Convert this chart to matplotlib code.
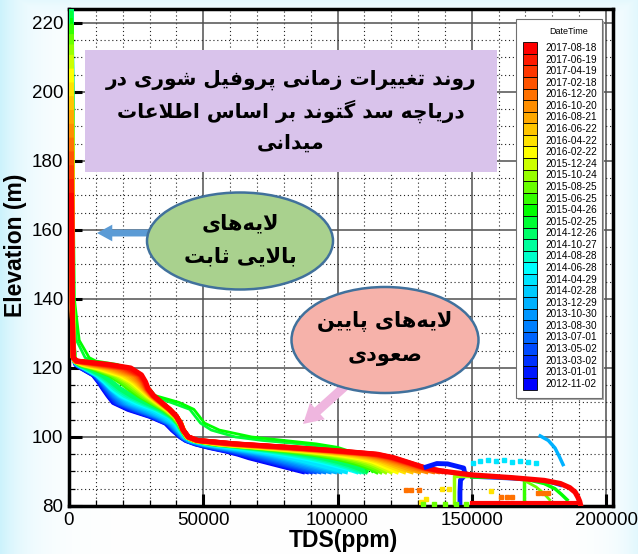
import numpy as np
import matplotlib
matplotlib.use("Agg")
import matplotlib.pyplot as plt
from matplotlib.colors import LinearSegmentedColormap
from matplotlib.patches import Ellipse, Rectangle, FancyArrowPatch
from matplotlib.ticker import MultipleLocator

# ---------------- data ----------------
dates = ["2012-11-02", "2013-01-01", "2013-03-02", "2013-05-02", "2013-07-01",
         "2013-08-30", "2013-10-30", "2013-12-29", "2014-02-28", "2014-04-29",
         "2014-06-28", "2014-08-28", "2014-10-27", "2014-12-26", "2015-02-25",
         "2015-04-26", "2015-06-25", "2015-08-25", "2015-10-24", "2015-12-24",
         "2016-02-22", "2016-04-22", "2016-06-22", "2016-08-21", "2016-10-20",
         "2016-12-20", "2017-02-18", "2017-04-19", "2017-06-19", "2017-08-18"]

# water surface elevation of each profile (m)
surface_elev = [205, 207, 210, 212, 214, 216, 218, 219, 220, 221,
                222, 223, 224, 224, 223, 221, 219, 216, 213, 210,
                206, 202, 198, 194, 190, 186, 182, 178, 174, 170]

# elevations below the surface where TDS was read (m)
elev_levels = [140, 128, 123, 122, 121, 120, 118, 116, 114, 112, 110, 108, 106,
               104, 102, 100, 99, 98, 97, 96, 95, 94, 93, 92, 91, 90]

# TDS (ppm): first value at the surface, then at elev_levels
tds_2012 = [
    [900, 1200, 1500, 1800, 2100, 2600, 4500, 9000, 11000, 12700, 14500, 16500, 22000, 30000, 36000, 38500, 41500, 43500, 47000, 52000, 58000, 63000, 67000, 72000, 77000, 82000, 87000],
]
tds_2013 = [
    [900, 1200, 1500, 1800, 2100, 2600, 4700, 9200, 11300, 13000, 14900, 17000, 22800, 30500, 36300, 38800, 41700, 43700, 47400, 52600, 58800, 64000, 68500, 73500, 78500, 83500, 88500],
    [900, 1200, 1500, 1800, 2100, 2700, 4900, 9400, 11600, 13400, 15300, 17600, 23600, 31000, 36600, 39100, 41900, 43900, 47800, 53300, 59700, 65200, 70000, 75000, 80000, 85000, 90000],
    [900, 1200, 1500, 1800, 2100, 2800, 5100, 9600, 11900, 13800, 15800, 18300, 24400, 31500, 36900, 39400, 42100, 44100, 48200, 54000, 60700, 66500, 71500, 76500, 81500, 86500, 91500],
    [900, 1200, 1500, 1800, 2100, 2900, 5300, 9800, 12200, 14200, 16300, 19000, 25200, 32000, 37200, 39700, 42300, 44300, 48600, 54800, 61800, 68000, 73200, 78200, 83200, 88200, 93200],
    [900, 1200, 1500, 1800, 2100, 3000, 5500, 10000, 12500, 14600, 16800, 19800, 26000, 32600, 37500, 40000, 42500, 44500, 49000, 55700, 63000, 69600, 75000, 80000, 85000, 90000, 95000],
    [900, 1200, 1500, 1800, 2100, 3100, 5700, 10200, 12800, 15000, 17400, 20600, 27000, 33200, 37900, 40300, 42700, 44800, 49500, 56600, 64300, 71300, 76800, 82000, 87000, 92000, 97000],
    [900, 1200, 1500, 1800, 2100, 3200, 5800, 10300, 13000, 15400, 18000, 21500, 28000, 33800, 38300, 40600, 42900, 45100, 50000, 57600, 65700, 73000, 78700, 84000, 89000, 94000, 99000],
]
tds_2014 = [
    [900, 1200, 1500, 1800, 2100, 3300, 5900, 10400, 13200, 15700, 18600, 22500, 29200, 34600, 38800, 40900, 43100, 45400, 50600, 58700, 67200, 74800, 80600, 86000, 91000, 96000, 101000],
    [900, 1200, 1500, 1800, 2100, 3400, 6000, 10500, 13400, 15900, 19100, 23700, 30500, 35600, 39400, 41200, 43300, 45700, 51200, 60000, 68800, 76700, 82600, 88000, 93000, 98000, 103000],
    [900, 1200, 1500, 1800, 2100, 3500, 6000, 10500, 13500, 16000, 19500, 25000, 32000, 37000, 40000, 41500, 43500, 46000, 52000, 62000, 72000, 80000, 87000, 93000, 98000, 103000, 107000],
    [900, 1200, 1500, 1800, 2100, 3600, 6300, 11000, 14200, 17000, 20800, 26300, 32800, 37400, 40200, 41700, 43600, 46200, 52600, 63500, 74000, 82500, 89500, 95300, 100200, 104600, 108200],
    [900, 1200, 1500, 1800, 2100, 3700, 6600, 11600, 15000, 18000, 22000, 27500, 33500, 37800, 40400, 41900, 43700, 46400, 53200, 65000, 76000, 85000, 92000, 97500, 102300, 106200, 109400],
    [900, 1200, 1500, 1800, 2200, 3800, 7000, 12300, 15800, 19000, 23200, 28600, 34200, 38200, 40600, 42100, 43800, 46600, 53800, 66500, 78000, 87400, 94300, 99600, 104200, 107700, 110500],
]
tds_2015 = [
    [900, 1700, 2800, 6000, 8500, 14000, 19000, 23000, 26000, 28500, 30500, 38000, 45000, 47000, 49000, 53000, 62000, 72000, 86000, 97000, 102000, 105000, 107000, 108500, 109500, 110500, 111000],
    [900, 2000, 3800, 7500, 10000, 18000, 21000, 24500, 27500, 30000, 32000, 41000, 46500, 48500, 50500, 56000, 68000, 80000, 92000, 100000, 104000, 107000, 109000, 110000, 111000, 112000, 113000],
    [900, 1300, 1600, 1800, 2300, 4300, 8500, 15000, 19000, 22300, 26000, 30500, 35200, 38600, 40800, 42200, 43800, 46600, 54500, 68500, 81000, 91000, 98500, 104000, 108500, 112000, 114500],
    [900, 1300, 1600, 1800, 2300, 4600, 9200, 16000, 20200, 23500, 27000, 31200, 35600, 38900, 41000, 42300, 43900, 46700, 55000, 69500, 83000, 93500, 101000, 106500, 110500, 113800, 116000],
    [900, 1300, 1600, 1800, 2300, 4900, 9900, 17000, 21400, 24600, 28000, 31900, 36000, 39200, 41200, 42400, 44000, 46800, 55500, 70500, 85000, 96000, 103500, 108800, 112600, 115600, 117800],
    [900, 1300, 1600, 1800, 2300, 5200, 10500, 18000, 22500, 25600, 28800, 32500, 36300, 39500, 41400, 42500, 44000, 46900, 55800, 71300, 86500, 98000, 105800, 111000, 114400, 117300, 119800],
]
tds_2016 = [
    [900, 1200, 1400, 1600, 2200, 5500, 11000, 19000, 23500, 26500, 29500, 33000, 36600, 39700, 41500, 42600, 44100, 47000, 56000, 72000, 88000, 100000, 108000, 113000, 116000, 119000, 122000],
    [900, 1200, 1400, 1600, 2200, 6200, 12300, 20200, 24300, 27100, 29900, 33300, 36800, 39800, 41600, 42600, 44100, 47100, 56700, 73500, 90000, 102500, 110000, 114800, 118000, 121300, 124700],
    [900, 1200, 1400, 1600, 2300, 7000, 13600, 21300, 25000, 27600, 30200, 33600, 37000, 39900, 41600, 42600, 44200, 47200, 57400, 75000, 92000, 104800, 112000, 116500, 120000, 123500, 127500],
    [900, 1200, 1400, 1600, 2300, 7800, 15000, 22400, 25700, 28000, 30500, 33800, 37100, 39900, 41600, 42600, 44200, 47300, 58100, 76300, 93600, 106900, 113800, 118200, 122000, 125800, 130300],
    [900, 1200, 1400, 1600, 2400, 8800, 16400, 23500, 26300, 28300, 30700, 34000, 37200, 39900, 41500, 42500, 44300, 47400, 58900, 77600, 95000, 108800, 115500, 119800, 124000, 128000, 133000],
    [900, 1200, 1400, 1600, 2500, 9900, 17800, 24500, 26900, 28600, 30900, 34100, 37300, 39900, 41500, 42500, 44300, 47500, 59700, 78700, 96300, 110500, 117000, 121400, 125800, 130000, 135500],
]
tds_2017 = [
    [900, 1200, 1400, 1600, 2600, 11000, 19200, 25300, 27400, 28900, 31100, 34200, 37400, 39900, 41500, 42500, 44400, 47600, 60500, 79800, 97500, 112000, 118500, 122800, 127200, 131300, 137300],
    [900, 1200, 1400, 1600, 2700, 12200, 20500, 26000, 27800, 29100, 31200, 34300, 37400, 39900, 41400, 42500, 44400, 47700, 61000, 80700, 98500, 113300, 119600, 123800, 128100, 132200, 138600],
    [900, 1200, 1400, 1600, 2800, 13500, 21700, 26500, 28200, 29300, 31400, 34400, 37500, 40000, 41400, 42500, 44500, 47800, 61500, 81400, 99300, 114200, 120400, 124500, 128600, 132700, 139400],
    [900, 1200, 1400, 1600, 3000, 15000, 23000, 27000, 28500, 29500, 31500, 34500, 37500, 40000, 41500, 42500, 44500, 48000, 62000, 82000, 100000, 115000, 121000, 125000, 129000, 133000, 140000],
]

# deep layer (below 90 m) readings
red_deep_tds = [140000, 150000, 165000, 177000, 183000, 186500, 188500, 189500, 190200, 190500]
red_deep_elev = [90, 89, 88.2, 87.4, 86.5, 85.3, 84.0, 82.6, 81.3, 80.3]
red_floor_tds = [150000, 170000, 190000]
red_floor_elev = [80.8, 80.8, 80.8]
blue_deep_tds = [133000, 137000, 141000, 147000, 147500, 145800, 145600, 145600]
blue_deep_elev = [91.3, 92.3, 92.2, 91.0, 89.0, 87.5, 84.0, 81.0]
blue_mid_tds = [150000, 165000, 178000, 183000]
blue_mid_elev = [88.4, 87.9, 87.2, 86.0]
sky_curve_tds = [175500, 178500, 181000, 182500, 184000]
sky_curve_elev = [100.3, 99.0, 96.8, 94.5, 92.0]
sky_dots_tds = [150500, 153000, 156000, 159000, 162000, 165000, 168000, 171000, 174000]
sky_dots_elev = [92.6, 93.0, 93.2, 93.0, 93.3, 92.8, 93.1, 92.7, 92.5]
yg_vert_tds = [149000, 143500, 143500]
yg_vert_elev = [88.8, 88.8, 81.0]
green_vert_tds = [169500, 169500]
green_vert_elev = [88.2, 81.5]
green_arc_tds = [150000, 160000, 170000, 177000, 181000, 183500, 185500]
green_arc_elev = [88.4, 88.3, 87.8, 86.5, 85.0, 83.3, 81.8]
green_arc2_tds = [170000, 174000, 177000, 179000]
green_arc2_elev = [87.2, 85.5, 83.5, 81.8]
orange_pts_tds = [125500, 127500, 130500, 161000, 163000, 165000, 174500, 176500, 178500]
orange_pts_elev = [84.6, 84.6, 84.6, 82.6, 82.7, 82.6, 83.8, 83.8, 83.7]
yellow_pts_tds = [139000, 141500, 157000, 131000, 133000]
yellow_pts_elev = [84.8, 85.0, 84.4, 81.2, 82.0]
floor_pts_tds = [132000, 136000, 140000, 144000, 148000]
floor_pts_elev = [80.5, 80.6, 80.5, 80.6, 80.5]

# annotation texts
title_lines = ["روند تغییرات زمانی پروفیل شوری در",
               "دریاچه سد گتوند بر اساس اطلاعات",
               "میدانی"]
upper_lines = ["لایه‌های", "بالایی ثابت"]
lower_lines = ["لایه‌های پایین", "صعودی"]

# ---------------- Persian shaping (matplotlib has no bidi) ----------------
FORMS = {
    'ا': ('\uFE8D', '\uFE8E'), 'د': ('\uFEA9', '\uFEAA'), 'ر': ('\uFEAD', '\uFEAE'),
    'ز': ('\uFEAF', '\uFEB0'), 'و': ('\uFEED', '\uFEEE'),
    'ب': ('\uFE8F', '\uFE90', '\uFE91', '\uFE92'), 'پ': ('\uFB56', '\uFB57', '\uFB58', '\uFB59'),
    'ت': ('\uFE95', '\uFE96', '\uFE97', '\uFE98'), 'ث': ('\uFE99', '\uFE9A', '\uFE9B', '\uFE9C'),
    'چ': ('\uFB7A', '\uFB7B', '\uFB7C', '\uFB7D'), 'س': ('\uFEB1', '\uFEB2', '\uFEB3', '\uFEB4'),
    'ش': ('\uFEB5', '\uFEB6', '\uFEB7', '\uFEB8'), 'ص': ('\uFEB9', '\uFEBA', '\uFEBB', '\uFEBC'),
    'ط': ('\uFEC1', '\uFEC2', '\uFEC3', '\uFEC4'), 'ع': ('\uFEC9', '\uFECA', '\uFECB', '\uFECC'),
    'غ': ('\uFECD', '\uFECE', '\uFECF', '\uFED0'), 'ف': ('\uFED1', '\uFED2', '\uFED3', '\uFED4'),
    'گ': ('\uFB92', '\uFB93', '\uFB94', '\uFB95'), 'ل': ('\uFEDD', '\uFEDE', '\uFEDF', '\uFEE0'),
    'م': ('\uFEE1', '\uFEE2', '\uFEE3', '\uFEE4'), 'ن': ('\uFEE5', '\uFEE6', '\uFEE7', '\uFEE8'),
    'ه': ('\uFEE9', '\uFEEA', '\uFEEB', '\uFEEC'), 'ی': ('\uFBFC', '\uFBFD', '\uFBFE', '\uFBFF'),
}


def dual(c):
    return c in FORMS and len(FORMS[c]) == 4


def farsi(text):
    out = []
    i = 0
    n = len(text)
    while i < n:
        c = text[i]
        prev = text[i - 1] if i > 0 else ''
        cp = dual(prev) and c in FORMS
        if c == 'ل' and i + 1 < n and text[i + 1] == 'ا':
            out.append('\uFEFC' if cp else '\uFEFB')
            i += 2
            continue
        if c not in FORMS:
            if c != '\u200c':
                out.append(c)
            i += 1
            continue
        nxt = text[i + 1] if i + 1 < n else ''
        cn = dual(c) and nxt in FORMS
        f = FORMS[c]
        if cp and cn:
            out.append(f[3])
        elif cp:
            out.append(f[1])
        elif cn:
            out.append(f[2])
        else:
            out.append(f[0])
        i += 1
    return ''.join(reversed(out))


# ---------------- figure ----------------
W, H = 638, 554
fig = plt.figure(figsize=(W / 100, H / 100), dpi=100, facecolor='white')

# light cyan border shading of the slide
bg = fig.add_axes([0, 0, 1, 1], zorder=-10)
bg.axis('off')
xx, yy = np.meshgrid(np.arange(W), np.arange(H))
f = np.maximum.reduce([np.exp(-xx / 28.0), 0.6 * np.exp(-(W - xx) / 22.0),
                       0.5 * np.exp(-yy / 20.0)])
tint = np.array([0.80, 0.95, 0.99])
img = 1 - f[..., None] * (1 - tint)
bg.imshow(img, extent=[0, 1, 0, 1], aspect='auto', interpolation='bilinear')

ax = fig.add_axes([69 / W, 1 - 506 / H, 544 / W, 497 / H])
ax.set_facecolor('white')

cmap = LinearSegmentedColormap.from_list(
    'dt', [(0, '#0000ff'), (10 / 29, '#00ffff'), (15 / 29, '#00ff00'),
           (20 / 29, '#ffff00'), (1, '#ff0000')])
colors = cmap(np.linspace(0, 1, len(dates)))

tds_profiles = tds_2012 + tds_2013 + tds_2014 + tds_2015 + tds_2016 + tds_2017
for i, row in enumerate(tds_profiles):
    lw = 2.0 if dates[i] in ("2015-02-25", "2015-04-26") else 3.6
    ax.plot(row, [surface_elev[i]] + elev_levels, color=colors[i], lw=lw,
            solid_joinstyle='round', zorder=3)

# deep layer
ax.plot(blue_deep_tds, blue_deep_elev, color=colors[1], lw=3.5, zorder=3)
ax.plot(blue_mid_tds, blue_mid_elev, color=colors[3], lw=2.5, zorder=3)
ax.plot(sky_curve_tds, sky_curve_elev, color=colors[7], lw=2.5, zorder=3)
ax.plot(sky_dots_tds, sky_dots_elev, ls='none', marker='s', ms=2.5, color=colors[9], zorder=3)
ax.plot(yg_vert_tds, yg_vert_elev, color=colors[18], lw=2.5, zorder=3)
ax.plot(green_vert_tds, green_vert_elev, color=colors[16], lw=2.5, zorder=3)
ax.plot(green_arc_tds, green_arc_elev, color=colors[15], lw=2.5, zorder=3)
ax.plot(green_arc2_tds, green_arc2_elev, color=colors[17], lw=2.0, zorder=3)
ax.plot(orange_pts_tds, orange_pts_elev, ls='none', marker='s', ms=3, color=colors[25], zorder=3)
ax.plot(yellow_pts_tds, yellow_pts_elev, ls='none', marker='s', ms=3, color=colors[21], zorder=3)
ax.plot(floor_pts_tds, floor_pts_elev, ls='none', marker='s', ms=3, color=colors[17], zorder=3)
ax.plot(red_deep_tds, red_deep_elev, color=colors[-1], lw=3.8, zorder=4)
ax.plot(red_floor_tds, red_floor_elev, color=colors[-1], lw=3.0, zorder=4)

ax.set_xlim(0, 202600)
ax.set_ylim(80, 224)
ax.set_xticks([0, 50000, 100000, 150000, 200000])
ax.set_yticks(range(80, 221, 20))
ax.xaxis.set_minor_locator(MultipleLocator(10000))
ax.yaxis.set_minor_locator(MultipleLocator(5))
ax.set_axisbelow(True)
ax.grid(which='major', color='#505050', lw=1.1)
ax.grid(which='minor', color='#202020', lw=0.8, ls=(0, (1, 2.5)))
ax.tick_params(which='major', direction='in', length=9, width=2.2,
               labelsize=13.5, pad=4)
ax.tick_params(which='minor', direction='in', length=4.5, width=0.9)
for lab in ax.get_xticklabels() + ax.get_yticklabels():
    lab.set_fontfamily('Liberation Sans')
for sp in ax.spines.values():
    sp.set_linewidth(2.5)

ax.set_xlabel('TDS(ppm)', fontsize=16.5, fontweight='bold', family='Liberation Sans')
ax.set_ylabel('Elevation (m)', fontsize=16.5, fontweight='bold', family='Liberation Sans')
ax.xaxis.set_label_coords((343 - 69) / 544, (506 - 541) / 497)
ax.yaxis.set_label_coords((16 - 69) / 544, (506 - 245) / 497)
ax.xaxis.label.set_va('center')
ax.yaxis.label.set_va('center')

T = fig.dpi_scale_trans


def P(x, y):
    return (x / 100, (H - y) / 100)


# legend
fig.add_artist(Rectangle(P(518, 400), 86 / 100, 379 / 100, transform=T,
                         fc='#a8a8a8', ec='none', zorder=5))
fig.add_artist(Rectangle(P(516, 398), 86 / 100, 379 / 100, transform=T,
                         fc='white', ec='#707070', lw=0.8, zorder=5))
fig.text(*P(569, 32), 'DateTime', transform=T, fontsize=6.5,
         family='Liberation Sans', ha='center', va='center', zorder=6)
for k, i in enumerate(range(len(dates) - 1, -1, -1)):
    yc = 48 + k * 11.58
    fig.add_artist(Rectangle(P(523, yc + 5.8), 14 / 100, 11.58 / 100, transform=T,
                             fc=colors[i], ec='black', lw=0.6, zorder=6))
    fig.text(*P(545, yc), dates[i], transform=T, fontsize=7.2,
             family='Liberation Sans', ha='left', va='center', zorder=6)

# title box
fig.add_artist(Rectangle(P(85, 172), 412 / 100, 122 / 100, transform=T,
                         fc='#d9c3eb', ec='none', zorder=5))
for line, y in zip(title_lines, [80, 111, 143]):
    fig.text(*P(291, y), farsi(line), transform=T, fontsize=14.5,
             fontweight='bold', family='DejaVu Sans', ha='center', va='center', zorder=6)

# upper layers bubble
fig.add_artist(FancyArrowPatch(P(155, 233), P(97, 233), transform=T,
                               arrowstyle='simple,head_width=12,head_length=11,tail_width=5',
                               mutation_scale=1, shrinkA=0, shrinkB=0,
                               fc='#5b9bd5', ec='none', zorder=5))
fig.add_artist(Ellipse(P(240, 241), 186 / 100, 97 / 100, transform=T,
                       fc='#a9d18e', ec='#41719c', lw=1.8, zorder=5))
for line, y in zip(upper_lines, [223, 256]):
    fig.text(*P(240, y), farsi(line), transform=T, fontsize=15,
             fontweight='bold', family='DejaVu Sans', ha='center', va='center', zorder=6)

# lower layers bubble
fig.add_artist(FancyArrowPatch(P(352, 380), P(303, 424), transform=T,
                               arrowstyle='simple,head_width=16,head_length=14,tail_width=6.5',
                               mutation_scale=1, shrinkA=0, shrinkB=0,
                               fc='#efb6df', ec='none', zorder=5))
fig.add_artist(Ellipse(P(385, 340), 187 / 100, 106 / 100, transform=T,
                       fc='#f6b2aa', ec='#41719c', lw=1.8, zorder=5))
for line, y in zip(lower_lines, [322, 356]):
    fig.text(*P(385, y), farsi(line), transform=T, fontsize=15,
             fontweight='bold', family='DejaVu Sans', ha='center', va='center', zorder=6)

fig.savefig('out.png', dpi=100, facecolor=fig.get_facecolor())
